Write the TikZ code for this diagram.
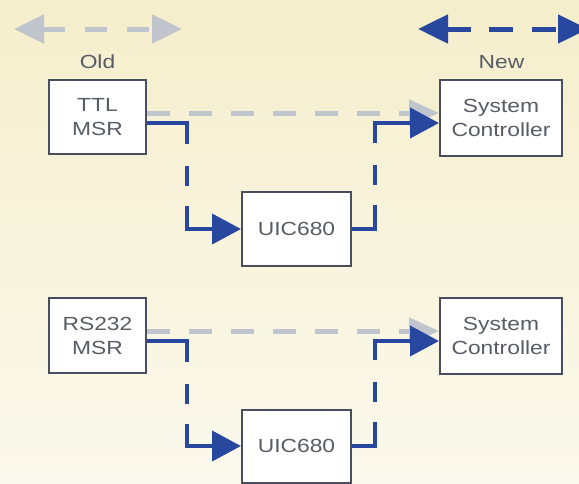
\documentclass[tikz,border=0pt]{standalone}
\usepackage{fontspec}
\newfontfamily\dfont{Liberation Sans}[FakeStretch=1.2]
\usetikzlibrary{arrows.meta,calc}
\definecolor{cblue}{RGB}{40,72,160}
\definecolor{cgray}{RGB}{192,196,204}
\definecolor{cborder}{RGB}{72,78,96}
\definecolor{ctext}{RGB}{88,92,100}
\definecolor{bgtop}{RGB}{245,238,204}
\definecolor{bgbot}{RGB}{251,249,237}
\begin{document}
\begin{tikzpicture}[x=1pt,y=-1pt,
  box/.style={draw=cborder, line width=2pt, fill=white, inner sep=0pt, align=center,
    text=ctext, font=\dfont\fontsize{19}{24}\selectfont},
  lbl/.style={text=ctext, inner sep=0pt, font=\dfont\fontsize{19}{24}\selectfont},
  bluecon/.style={draw=cblue, line width=4pt, line join=miter, line cap=butt,
    -{Triangle[length=29pt,width=30pt]}},
  graycon/.style={draw=cgray, line width=5pt, line cap=butt,
    -{Triangle[length=30pt,width=26pt]}, dash pattern=on 23pt off 19pt},
  toparrow/.style={line width=5pt, line cap=butt,
    {Triangle[length=30pt,width=28pt]}-{Triangle[length=30pt,width=28pt]}}
]
\useasboundingbox (0,0) rectangle (579,483);
\clip (0,0) rectangle (579,483);
\shade[top color=bgtop, bottom color=bgbot] (0,0) rectangle (579,483);

% legend arrows
\coordinate (g1) at (14,29);
\coordinate (g2) at (182,29);
\coordinate (b1) at (418,29);
\coordinate (b2) at (588,29);
\draw[toparrow, cgray, dash pattern=on 22pt off 20pt] (g1) -- (g2);
\draw[toparrow, cblue, dash pattern=on 24pt off 18.5pt] (b1) -- (b2);
\node[lbl] (oldlbl) at (97.5,62) {Old};
\node[lbl] (newlbl) at (501.5,62) {New};

% boxes
\node[box, minimum width=97pt, minimum height=74pt] (ttl) at (97.5,117) {TTL\\MSR};
\node[box, minimum width=122pt, minimum height=76pt] (sc1) at (501,118) {System\\Controller};
\node[box, minimum width=109pt, minimum height=74pt] (uic1) at (296.5,229) {UIC680};
\node[box, minimum width=97pt, minimum height=75pt] (rs) at (97.5,335.5) {RS232\\MSR};
\node[box, minimum width=122pt, minimum height=76pt] (sc2) at (501,336) {System\\Controller};
\node[box, minimum width=109pt, minimum height=73pt] (uic2) at (296.5,446) {UIC680};

% upper group
\draw[graycon] (ttl.east |- 0,113) -- (sc1.west |- 0,113);
\draw[bluecon, dash pattern=on 61pt off 22pt on 20pt off 20pt on 80pt]
  (ttl.east |- 0,123) -- (187,123) -- (187,229) -- (uic1.west);
\draw[bluecon, dash pattern=on 47pt off 20pt on 20pt off 22pt on 80pt]
  (uic1.east) -- (375,229) -- (375,123) -- (sc1.west |- 0,123);

% lower group
\draw[graycon] (rs.east |- 0,331) -- (sc2.west |- 0,331);
\draw[bluecon, dash pattern=on 61pt off 22pt on 20pt off 20pt on 80pt]
  (rs.east |- 0,341) -- (187,341) -- (187,446) -- (uic2.west);
\draw[bluecon, dash pattern=on 47pt off 20pt on 20pt off 22pt on 80pt]
  (uic2.east) -- (375,446) -- (375,341) -- (sc2.west |- 0,341);
\end{tikzpicture}
\end{document}
